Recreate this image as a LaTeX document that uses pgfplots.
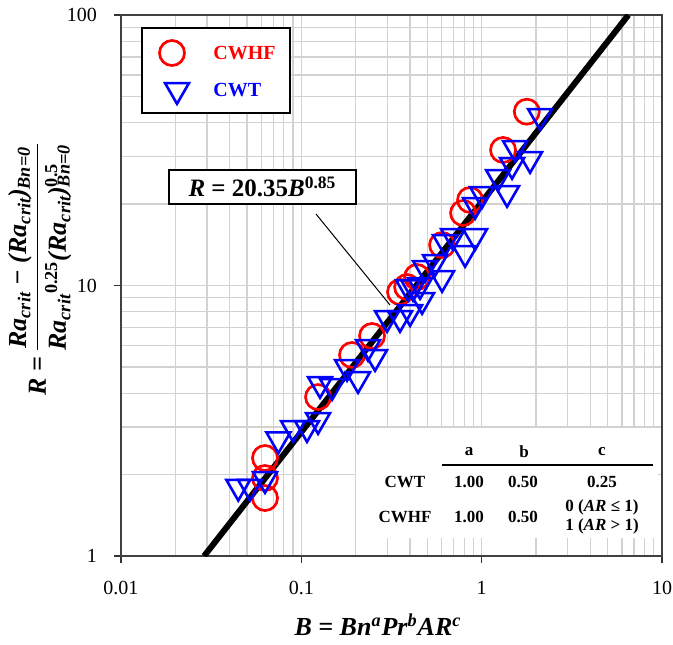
\documentclass[border=0pt]{standalone}
\usepackage{pgfplots}
\pgfplotsset{compat=1.18}
\usepackage{fontspec}
\setmainfont{Liberation Serif}
\tikzset{tabtxt/.style={font=\bfseries\fontsize{8.5}{10}\selectfont, anchor=center, inner sep=0pt}}
\begin{document}
\begin{tikzpicture}
\begin{axis}[
  at={(0pt,0pt)}, anchor=south west,
  scale only axis, width=270.5pt, height=270.5pt,
  xmode=log, ymode=log,
  xmin=0.01, xmax=10, ymin=1, ymax=100,
  xtick={0.01,0.1,1,10}, xticklabels={0.01,0.1,1,10},
  ytick={1,10,100}, yticklabels={1,10,100},
  minor xtick={0.02,0.03,0.04,0.05,0.06,0.07,0.08,0.09,0.2,0.3,0.4,0.5,0.6,0.7,0.8,0.9,2,3,4,5,6,7,8,9},
  minor ytick={2,3,4,5,6,7,8,9,20,30,40,50,60,70,80,90},
  grid=both,
  major grid style={gray!35, line width=0.6pt},
  minor grid style={gray!35, line width=0.6pt},
  tick align=outside, xtick pos=left, ytick pos=left,
  major tick length=3.5pt, minor tick length=0pt,
  axis line style={black!75, line width=0.8pt},
  tick style={black!80, line width=0.6pt},
  ticklabel style={font=\fontsize{10}{12}\selectfont},
  xticklabel style={yshift=-5.5pt, inner xsep=0pt},
  yticklabel style={xshift=-5pt},
]
\addplot[only marks, mark=o, mark size=6.25pt, red, line width=1.35pt] coordinates {
(0.0629,2.303) (0.0629,1.943) (0.0629,1.638) (0.1238,3.87) (0.191,5.535)
(0.2466,6.508) (0.3526,9.46) (0.3859,9.87) (0.4383,10.75) (0.6032,14.12)
(0.7887,18.54) (0.8623,20.71) (1.314,31.7) (1.779,43.9)
};
\addplot[only marks, mark=triangle, mark size=6.9pt, blue, line width=1.3pt,
  mark options={rotate=180}] coordinates {
(0.0447,1.804) (0.0519,1.804) (0.0629,1.926) (0.0746,2.700) (0.0900,2.973)
(0.1075,2.973) (0.1238,3.183) (0.1270,4.323) (0.1481,4.250) (0.1793,4.997)
(0.2063,4.512) (0.2344,5.924) (0.2563,5.441) (0.2987,7.584) (0.3526,7.584)
(0.4008,7.98) (0.3907,9.87) (0.4553,10.04) (0.4164,9.87) (0.4671,8.84)
(0.4855,11.6) (0.6032,10.66) (0.5514,12.21) (0.8091,13.19) (0.6266,14.48)
(0.694,15.24) (0.9192,15.24) (0.9192,19.85) (1.005,21.79) (1.383,21.98)
(1.233,25.19) (1.474,27.9) (1.855,29.36) (1.532,32.24) (2.108,42.33)
};
\addplot[black, line width=3pt, forget plot] coordinates {(0.0289,1) (6.51,100)};
\end{axis}
\node[font=\bfseries\itshape\fontsize{13}{15}\selectfont] at (128.5pt,-34.5pt)
  {B = Bn\textsuperscript{a}Pr\textsuperscript{b}AR\textsuperscript{c}};
\node[rotate=90, inner sep=0pt, font=\bfseries\itshape\fontsize{13}{15}\selectfont] at (-40.5pt,143pt)
  {R = \begin{tabular}{@{}c@{}}Ra\textsubscript{crit} − (Ra\textsubscript{crit})\textsubscript{Bn=0}\\[1pt]\hline\rule{0pt}{14pt}Ra\textsubscript{crit}\textsuperscript{\upshape 0.25}(Ra\textsubscript{crit})\rlap{\textsuperscript{\upshape 0.5}}\textsubscript{Bn=0}\end{tabular}};
\draw[black, line width=0.6pt, fill=white] (10.5pt,221.5pt) rectangle (84.5pt,264pt);
\draw[red, line width=1.35pt] (25.5pt,251.5pt) circle (6.25pt);
\draw[blue, line width=1.3pt] (22.02pt,236.45pt) -- (33.98pt,236.45pt) -- (28pt,226.1pt) -- cycle;
\node[anchor=west, inner sep=0pt, font=\bfseries\fontsize{10}{12}\selectfont, text=red] at (46pt,251.5pt) {CWHF};
\node[anchor=west, inner sep=0pt, font=\bfseries\fontsize{10}{12}\selectfont, text=blue] at (46pt,233pt) {CWT};
\draw[black, line width=0.5pt] (97.5pt,171pt) -- (134.5pt,125.5pt);
\node[draw=black, fill=white, line width=0.6pt, minimum width=93.5pt, minimum height=16pt,
  font=\bfseries\fontsize{12.5}{14}\selectfont] at (70.75pt,184.5pt)
  {\textit{R} = 20.35\textit{B}\textsuperscript{0.85}};
\fill[white] (117.5pt,9pt) rectangle (268.5pt,64pt);
\draw[black, line width=0.6pt] (160.5pt,45.5pt) -- (266pt,45.5pt);
\node[tabtxt] at (174pt,52pt) {a};
\node[tabtxt] at (201.5pt,52pt) {b};
\node[tabtxt] at (240.5pt,52pt) {c};
\node[tabtxt] at (142pt,37pt) {CWT};
\node[tabtxt] at (174pt,37pt) {1.00};
\node[tabtxt] at (201pt,37pt) {0.50};
\node[tabtxt] at (240.5pt,37pt) {0.25};
\node[tabtxt] at (142pt,19.5pt) {CWHF};
\node[tabtxt] at (174pt,19.5pt) {1.00};
\node[tabtxt] at (201pt,19.5pt) {0.50};
\node[tabtxt] at (240.5pt,24.5pt) {0 (\textit{AR} ≤ 1)};
\node[tabtxt] at (240.5pt,15pt) {1 (\textit{AR} \textgreater{} 1)};
\path (-60.5pt,-44pt) rectangle (276pt,278pt);
\end{tikzpicture}
\end{document}
